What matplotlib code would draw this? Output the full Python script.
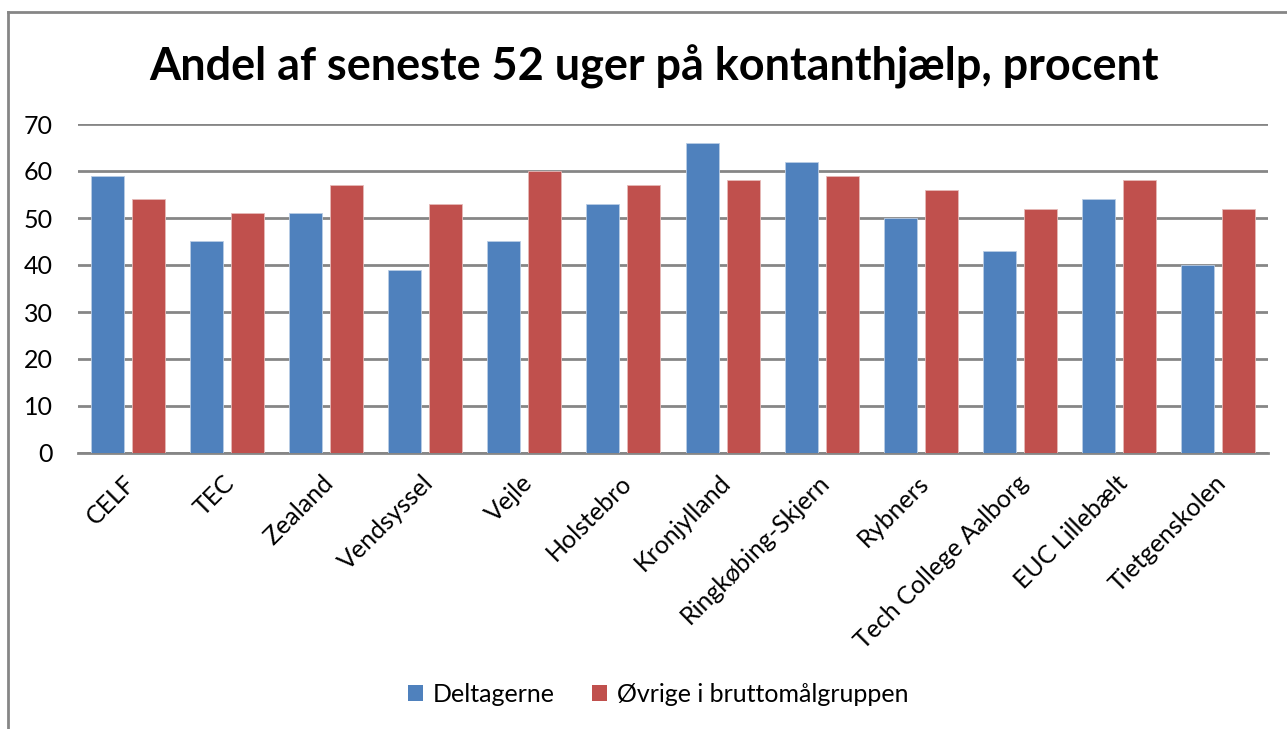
import matplotlib
matplotlib.use("Agg")
import matplotlib.pyplot as plt
import numpy as np
from matplotlib.lines import Line2D
from matplotlib.patches import Patch

categories = ["CELF", "TEC", "Zealand", "Vendsyssel", "Vejle", "Holstebro",
              "Kronjylland", "Ringkøbing-Skjern", "Rybners", "Tech College Aalborg",
              "EUC Lillebælt", "Tietgenskolen"]
deltagerne = [59, 45, 51, 39, 45, 53, 66, 62, 50, 43, 54, 40]
oevrige = [54, 51, 57, 53, 60, 57, 58, 59, 56, 52, 58, 52]
series_names = ["Deltagerne", "Øvrige i bruttomålgruppen"]
yticks = [0, 10, 20, 30, 40, 50, 60, 70]
title = "Andel af seneste 52 uger på kontanthjælp, procent"

plt.rcParams['font.family'] = ['Lato', 'DejaVu Sans']

fig = plt.figure(figsize=(12.87, 7.29), dpi=100)
ax = fig.add_axes([78/1287, 1-453/729, (1268-78)/1287, (453-124)/729])

x = np.arange(len(categories))
w = 0.333
off = 0.207
ax.bar(x - off, deltagerne, w, color="#4F81BD", edgecolor="#B9CDE5", linewidth=0.6, zorder=3)
ax.bar(x + off, oevrige, w, color="#C0504D", edgecolor="#E6B9B8", linewidth=0.6, zorder=3)

ax.set_xlim(-0.5, len(categories) - 0.5)
ax.set_ylim(0, 70)
ax.set_yticks(yticks)
ax.set_yticklabels([str(v) for v in yticks], fontsize=18)
ax.yaxis.grid(True, color="#868686", linewidth=2, zorder=0)
ax.tick_params(axis='y', length=0, pad=18)
for s in ["left", "right", "top"]:
    ax.spines[s].set_visible(False)
ax.spines["bottom"].set_color("#868686")
ax.spines["bottom"].set_linewidth(2)

ax.set_xticks(x - 0.04)
ax.set_xticklabels(categories, rotation=45, ha="right", rotation_mode="anchor", fontsize=18)
ax.tick_params(axis='x', length=0, pad=13)

fig.text(654/1287, 1-67/729, title, ha="center", va="center", fontsize=32.4, fontweight="bold")

handles = [Patch(facecolor="#4F81BD"), Patch(facecolor="#C0504D")]
fig.legend(handles, series_names, loc="center", bbox_to_anchor=(658/1287, 1-694/729),
           ncol=2, frameon=False, fontsize=18, handlelength=0.6, handleheight=0.6,
           handletextpad=0.4, columnspacing=1.5)

fig.add_artist(Line2D([8/1287, 1.01], [1-12/729, 1-12/729], color="#868686", linewidth=2, transform=fig.transFigure))
fig.add_artist(Line2D([8/1287, 8/1287], [-0.01, 1-12/729], color="#868686", linewidth=2, transform=fig.transFigure))

fig.savefig("out.png", dpi=100)
